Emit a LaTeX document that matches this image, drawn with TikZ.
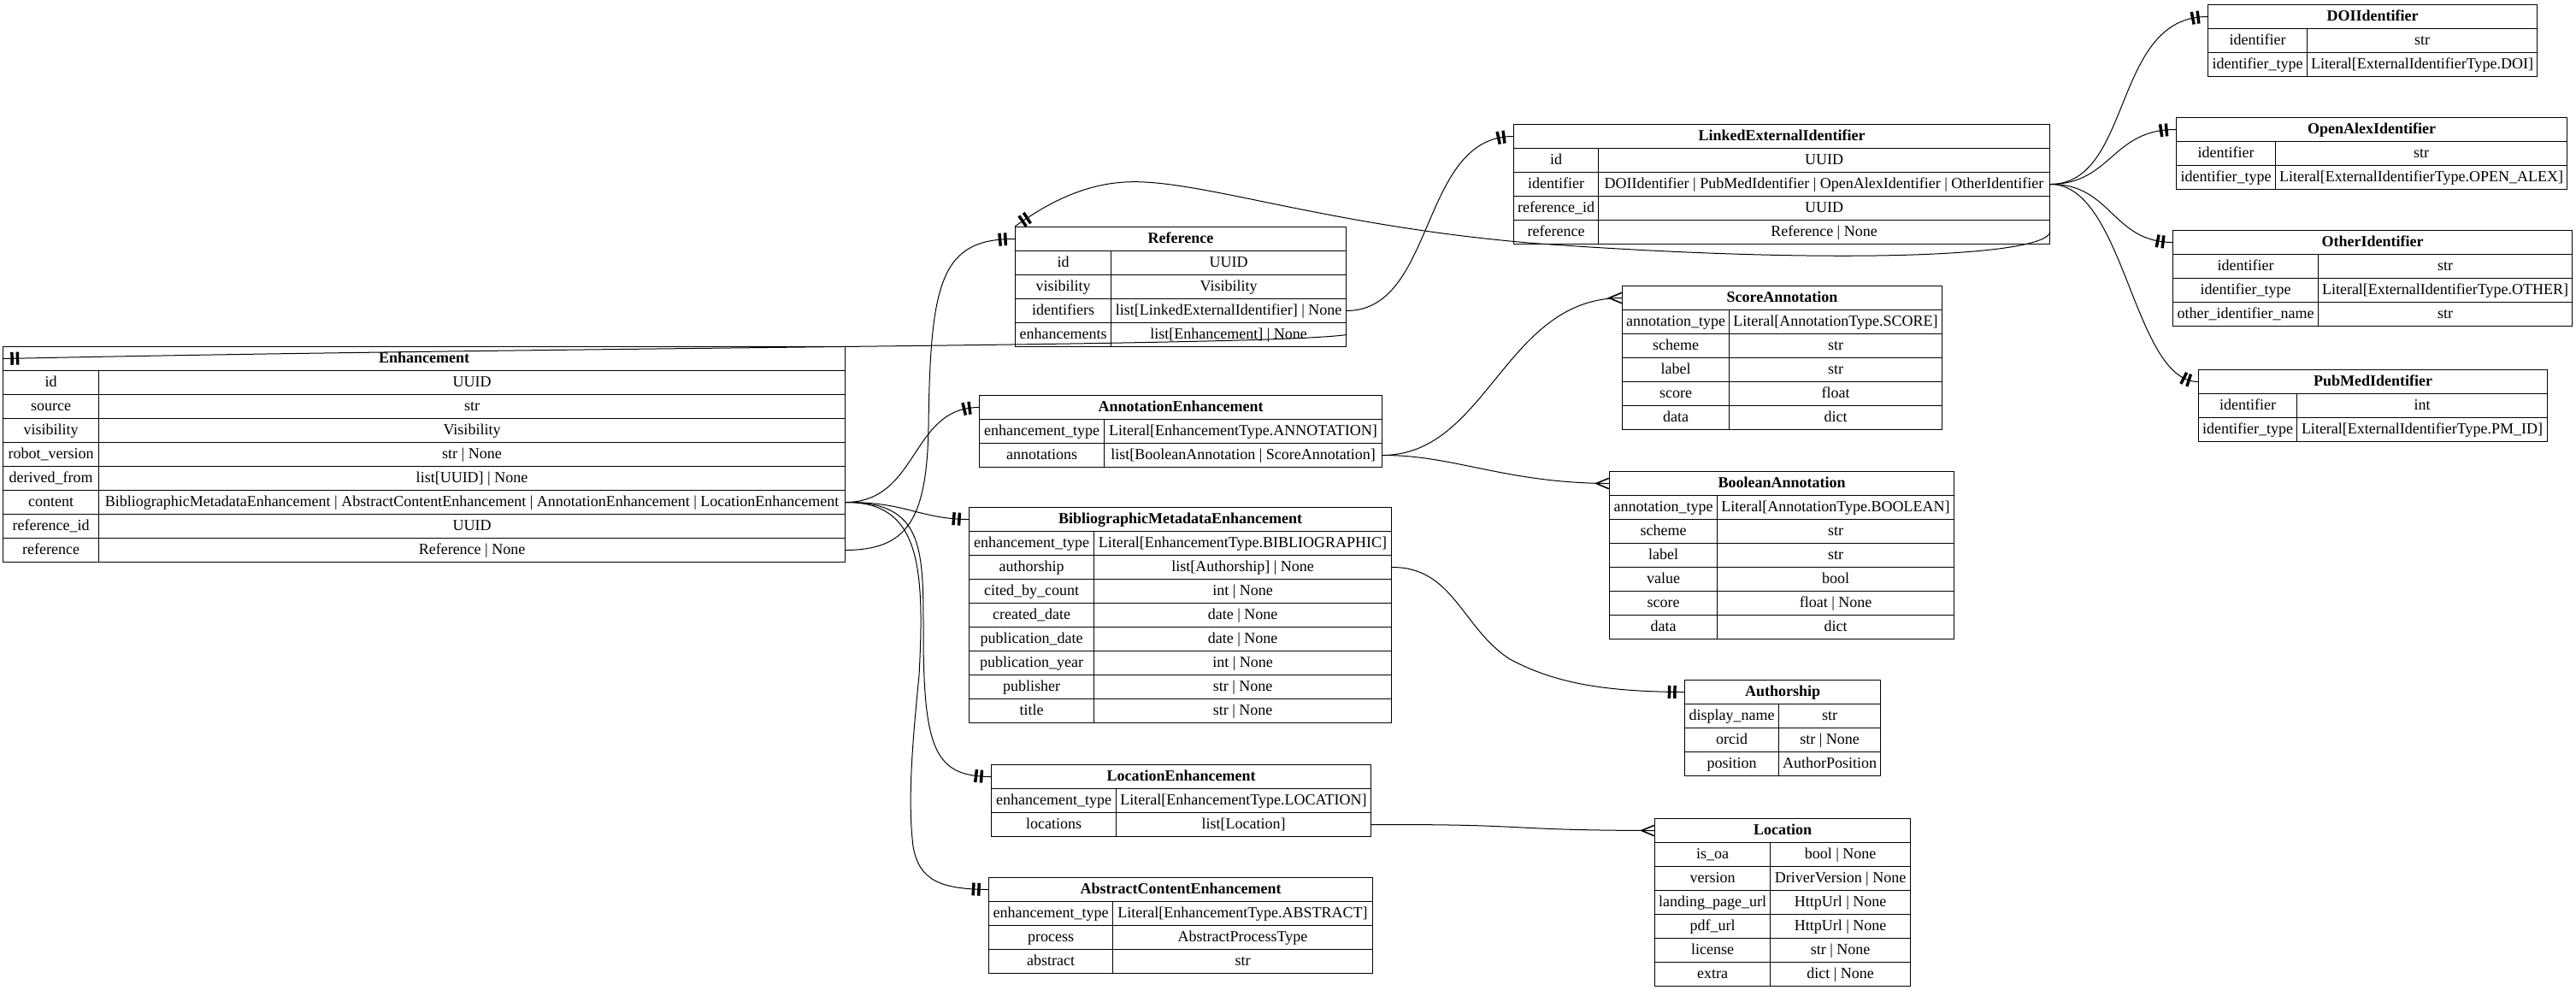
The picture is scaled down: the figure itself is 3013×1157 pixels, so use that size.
\documentclass[tikz,border=0pt]{standalone}
\usepackage{fontspec}
\setmainfont{Liberation Serif}
\usepackage{tikz}
\usetikzlibrary{decorations.markings}

\begin{document}
\begin{tikzpicture}[x=0.75pt,y=-0.75pt,
  hdr/.style={draw, line width=0.8pt, anchor=north west, inner sep=0pt, minimum height=21pt,
    text height=9.8pt, text depth=3pt, font=\fontsize{13.5pt}{15pt}\selectfont\bfseries},
  fld/.style={draw, line width=0.8pt, anchor=north west, inner sep=0pt, minimum height=21pt,
    text height=9.8pt, text depth=3pt, font=\fontsize{13.5pt}{15pt}\selectfont},
  cellw/.style={minimum width=#1*0.75pt},
  rel/.style={line width=0.75pt},
  onlyone/.style={postaction={decorate, decoration={markings,
    mark=at position -8.3pt with {\fill (-1.3pt,-5.6pt) rectangle (1.3pt,5.6pt);},
    mark=at position -13.1pt with {\fill (-1.3pt,-5.6pt) rectangle (1.3pt,5.6pt);}}}},
  crowfoot/.style={postaction={decorate, decoration={markings,
    mark=at position -0.2pt with {\draw[line width=1.2pt] (0,4.6pt) -- (-11pt,0) -- (0,-4.6pt);}}}}]
\useasboundingbox (0,0) rectangle (3013,1157);

% Enhancement
\node[hdr, cellw=985] (enh) at (3,405) {Enhancement};
\node[fld, cellw=112] (enh-id) at (3,433) {id};
\node[fld, cellw=873] (enh-id-t) at (115,433) {UUID};
\node[fld, cellw=112] (enh-source) at (3,461) {source};
\node[fld, cellw=873] (enh-source-t) at (115,461) {str};
\node[fld, cellw=112] (enh-visibility) at (3,489) {visibility};
\node[fld, cellw=873] (enh-visibility-t) at (115,489) {Visibility};
\node[fld, cellw=112] (enh-robotversion) at (3,517) {robot\_version};
\node[fld, cellw=873] (enh-robotversion-t) at (115,517) {str | None};
\node[fld, cellw=112] (enh-derivedfrom) at (3,545) {derived\_from};
\node[fld, cellw=873] (enh-derivedfrom-t) at (115,545) {list[UUID] | None};
\node[fld, cellw=112] (enh-content) at (3,573) {content};
\node[fld, cellw=873] (enh-content-t) at (115,573) {BibliographicMetadataEnhancement | AbstractContentEnhancement | AnnotationEnhancement | LocationEnhancement};
\node[fld, cellw=112] (enh-referenceid) at (3,601) {reference\_id};
\node[fld, cellw=873] (enh-referenceid-t) at (115,601) {UUID};
\node[fld, cellw=112] (enh-reference) at (3,629) {reference};
\node[fld, cellw=873] (enh-reference-t) at (115,629) {Reference | None};

% Reference
\node[hdr, cellw=387] (ref) at (1187,265) {Reference};
\node[fld, cellw=112] (ref-id) at (1187,293) {id};
\node[fld, cellw=275] (ref-id-t) at (1299,293) {UUID};
\node[fld, cellw=112] (ref-visibility) at (1187,321) {visibility};
\node[fld, cellw=275] (ref-visibility-t) at (1299,321) {Visibility};
\node[fld, cellw=112] (ref-identifiers) at (1187,349) {identifiers};
\node[fld, cellw=275] (ref-identifiers-t) at (1299,349) {list[LinkedExternalIdentifier] | None};
\node[fld, cellw=112] (ref-enhancements) at (1187,377) {enhancements};
\node[fld, cellw=275] (ref-enhancements-t) at (1299,377) {list[Enhancement] | None};

% AnnotationEnhancement
\node[hdr, cellw=471] (ann) at (1145,462) {AnnotationEnhancement};
\node[fld, cellw=146] (ann-type) at (1145,490) {enhancement\_type};
\node[fld, cellw=325] (ann-type-t) at (1291,490) {Literal[EnhancementType.ANNOTATION]};
\node[fld, cellw=146] (ann-annotations) at (1145,518) {annotations};
\node[fld, cellw=325] (ann-annotations-t) at (1291,518) {list[BooleanAnnotation | ScoreAnnotation]};

% BibliographicMetadataEnhancement
\node[hdr, cellw=494] (bib) at (1133,593) {BibliographicMetadataEnhancement};
\node[fld, cellw=146] (bib-type) at (1133,621) {enhancement\_type};
\node[fld, cellw=348] (bib-type-t) at (1279,621) {Literal[EnhancementType.BIBLIOGRAPHIC]};
\node[fld, cellw=146] (bib-authorship) at (1133,649) {authorship};
\node[fld, cellw=348] (bib-authorship-t) at (1279,649) {list[Authorship] | None};
\node[fld, cellw=146] (bib-citedbycount) at (1133,677) {cited\_by\_count};
\node[fld, cellw=348] (bib-citedbycount-t) at (1279,677) {int | None};
\node[fld, cellw=146] (bib-createddate) at (1133,705) {created\_date};
\node[fld, cellw=348] (bib-createddate-t) at (1279,705) {date | None};
\node[fld, cellw=146] (bib-publicationdate) at (1133,733) {publication\_date};
\node[fld, cellw=348] (bib-publicationdate-t) at (1279,733) {date | None};
\node[fld, cellw=146] (bib-publicationyear) at (1133,761) {publication\_year};
\node[fld, cellw=348] (bib-publicationyear-t) at (1279,761) {int | None};
\node[fld, cellw=146] (bib-publisher) at (1133,789) {publisher};
\node[fld, cellw=348] (bib-publisher-t) at (1279,789) {str | None};
\node[fld, cellw=146] (bib-title) at (1133,817) {title};
\node[fld, cellw=348] (bib-title-t) at (1279,817) {str | None};

% LocationEnhancement
\node[hdr, cellw=444] (locenh) at (1159,894) {LocationEnhancement};
\node[fld, cellw=146] (locenh-type) at (1159,922) {enhancement\_type};
\node[fld, cellw=298] (locenh-type-t) at (1305,922) {Literal[EnhancementType.LOCATION]};
\node[fld, cellw=146] (locenh-locations) at (1159,950) {locations};
\node[fld, cellw=298] (locenh-locations-t) at (1305,950) {list[Location]};

% AbstractContentEnhancement
\node[hdr, cellw=449] (abs) at (1156,1026) {AbstractContentEnhancement};
\node[fld, cellw=145] (abs-type) at (1156,1054) {enhancement\_type};
\node[fld, cellw=304] (abs-type-t) at (1301,1054) {Literal[EnhancementType.ABSTRACT]};
\node[fld, cellw=145] (abs-process) at (1156,1082) {process};
\node[fld, cellw=304] (abs-process-t) at (1301,1082) {AbstractProcessType};
\node[fld, cellw=145] (abs-abstract) at (1156,1110) {abstract};
\node[fld, cellw=304] (abs-abstract-t) at (1301,1110) {str};

% LinkedExternalIdentifier
\node[hdr, cellw=627] (lei) at (1770,145) {LinkedExternalIdentifier};
\node[fld, cellw=99] (lei-id) at (1770,173) {id};
\node[fld, cellw=528] (lei-id-t) at (1869,173) {UUID};
\node[fld, cellw=99] (lei-identifier) at (1770,201) {identifier};
\node[fld, cellw=528] (lei-identifier-t) at (1869,201) {DOIIdentifier | PubMedIdentifier | OpenAlexIdentifier | OtherIdentifier};
\node[fld, cellw=99] (lei-referenceid) at (1770,229) {reference\_id};
\node[fld, cellw=528] (lei-referenceid-t) at (1869,229) {UUID};
\node[fld, cellw=99] (lei-reference) at (1770,257) {reference};
\node[fld, cellw=528] (lei-reference-t) at (1869,257) {Reference | None};

% ScoreAnnotation
\node[hdr, cellw=374] (score) at (1897,334) {ScoreAnnotation};
\node[fld, cellw=125] (score-type) at (1897,362) {annotation\_type};
\node[fld, cellw=249] (score-type-t) at (2022,362) {Literal[AnnotationType.SCORE]};
\node[fld, cellw=125] (score-scheme) at (1897,390) {scheme};
\node[fld, cellw=249] (score-scheme-t) at (2022,390) {str};
\node[fld, cellw=125] (score-label) at (1897,418) {label};
\node[fld, cellw=249] (score-label-t) at (2022,418) {str};
\node[fld, cellw=125] (score-score) at (1897,446) {score};
\node[fld, cellw=249] (score-score-t) at (2022,446) {float};
\node[fld, cellw=125] (score-data) at (1897,474) {data};
\node[fld, cellw=249] (score-data-t) at (2022,474) {dict};

% BooleanAnnotation
\node[hdr, cellw=403] (bool) at (1882,551) {BooleanAnnotation};
\node[fld, cellw=126] (bool-type) at (1882,579) {annotation\_type};
\node[fld, cellw=277] (bool-type-t) at (2008,579) {Literal[AnnotationType.BOOLEAN]};
\node[fld, cellw=126] (bool-scheme) at (1882,607) {scheme};
\node[fld, cellw=277] (bool-scheme-t) at (2008,607) {str};
\node[fld, cellw=126] (bool-label) at (1882,635) {label};
\node[fld, cellw=277] (bool-label-t) at (2008,635) {str};
\node[fld, cellw=126] (bool-value) at (1882,663) {value};
\node[fld, cellw=277] (bool-value-t) at (2008,663) {bool};
\node[fld, cellw=126] (bool-score) at (1882,691) {score};
\node[fld, cellw=277] (bool-score-t) at (2008,691) {float | None};
\node[fld, cellw=126] (bool-data) at (1882,719) {data};
\node[fld, cellw=277] (bool-data-t) at (2008,719) {dict};

% Authorship
\node[hdr, cellw=229] (auth) at (1970,795) {Authorship};
\node[fld, cellw=110] (auth-displayname) at (1970,823) {display\_name};
\node[fld, cellw=119] (auth-displayname-t) at (2080,823) {str};
\node[fld, cellw=110] (auth-orcid) at (1970,851) {orcid};
\node[fld, cellw=119] (auth-orcid-t) at (2080,851) {str | None};
\node[fld, cellw=110] (auth-position) at (1970,879) {position};
\node[fld, cellw=119] (auth-position-t) at (2080,879) {AuthorPosition};

% Location
\node[hdr, cellw=299] (loc) at (1935,957) {Location};
\node[fld, cellw=135] (loc-isoa) at (1935,985) {is\_oa};
\node[fld, cellw=164] (loc-isoa-t) at (2070,985) {bool | None};
\node[fld, cellw=135] (loc-version) at (1935,1013) {version};
\node[fld, cellw=164] (loc-version-t) at (2070,1013) {DriverVersion | None};
\node[fld, cellw=135] (loc-landingpageurl) at (1935,1041) {landing\_page\_url};
\node[fld, cellw=164] (loc-landingpageurl-t) at (2070,1041) {HttpUrl | None};
\node[fld, cellw=135] (loc-pdfurl) at (1935,1069) {pdf\_url};
\node[fld, cellw=164] (loc-pdfurl-t) at (2070,1069) {HttpUrl | None};
\node[fld, cellw=135] (loc-license) at (1935,1097) {license};
\node[fld, cellw=164] (loc-license-t) at (2070,1097) {str | None};
\node[fld, cellw=135] (loc-extra) at (1935,1125) {extra};
\node[fld, cellw=164] (loc-extra-t) at (2070,1125) {dict | None};

% DOIIdentifier
\node[hdr, cellw=385] (doi) at (2582,5) {DOIIdentifier};
\node[fld, cellw=116] (doi-identifier) at (2582,33) {identifier};
\node[fld, cellw=269] (doi-identifier-t) at (2698,33) {str};
\node[fld, cellw=116] (doi-type) at (2582,61) {identifier\_type};
\node[fld, cellw=269] (doi-type-t) at (2698,61) {Literal[ExternalIdentifierType.DOI]};

% OpenAlexIdentifier
\node[hdr, cellw=457] (oa) at (2545,137) {OpenAlexIdentifier};
\node[fld, cellw=116] (oa-identifier) at (2545,165) {identifier};
\node[fld, cellw=341] (oa-identifier-t) at (2661,165) {str};
\node[fld, cellw=116] (oa-type) at (2545,193) {identifier\_type};
\node[fld, cellw=341] (oa-type-t) at (2661,193) {Literal[ExternalIdentifierType.OPEN\_ALEX]};

% OtherIdentifier
\node[hdr, cellw=467] (other) at (2541,269) {OtherIdentifier};
\node[fld, cellw=170] (other-identifier) at (2541,297) {identifier};
\node[fld, cellw=297] (other-identifier-t) at (2711,297) {str};
\node[fld, cellw=170] (other-type) at (2541,325) {identifier\_type};
\node[fld, cellw=297] (other-type-t) at (2711,325) {Literal[ExternalIdentifierType.OTHER]};
\node[fld, cellw=170] (other-name) at (2541,353) {other\_identifier\_name};
\node[fld, cellw=297] (other-name-t) at (2711,353) {str};

% PubMedIdentifier
\node[hdr, cellw=408] (pm) at (2571,432) {PubMedIdentifier};
\node[fld, cellw=115] (pm-identifier) at (2571,460) {identifier};
\node[fld, cellw=293] (pm-identifier-t) at (2686,460) {int};
\node[fld, cellw=115] (pm-type) at (2571,488) {identifier\_type};
\node[fld, cellw=293] (pm-type-t) at (2686,488) {Literal[ExternalIdentifierType.PM\_ID]};

% relations out of Enhancement
\draw[rel, onlyone] (enh-content-t.east) .. controls (1060,587) and (1075,607) .. (bib.west);
\draw[rel, onlyone] (enh-content-t.east) .. controls (1075,587) and (1065,476) .. (ann.west);
\draw[rel, onlyone] (enh-content-t.east) .. controls (1080,587) and (1080,640) .. (1080,740)
  .. controls (1080,880) and (1095,908) .. (locenh.west);
\draw[rel, onlyone] (enh-content-t.east) .. controls (1075,587) and (1082,660) .. (1075,790)
  .. controls (1066,880) and (1062,940) .. (1068,990) .. controls (1075,1030) and (1100,1040) .. (abs.west);
\draw[rel, onlyone] (enh-reference-t.east) .. controls (1060,643) and (1084,610) .. (1086,500)
  .. controls (1088,330) and (1100,279) .. (ref.west);

% relations out of Reference
\draw[rel, onlyone] (ref-enhancements-t.east) .. controls (1480,405) and (700,405) .. (enh.west);
\draw[rel, onlyone] (ref-identifiers-t.east) .. controls (1680,363) and (1660,159) .. (lei.west);

% relations out of LinkedExternalIdentifier
\draw[rel, onlyone] (lei-reference-t.east) .. controls (2390,300) and (2150,310) .. (1800,285)
  .. controls (1550,265) and (1400,208) .. (1316,213) .. controls (1260,216) and (1215,245) .. (ref.north west);
\draw[rel, onlyone] (lei-identifier-t.east) .. controls (2495,215) and (2470,19) .. (doi.west);
\draw[rel, onlyone] (lei-identifier-t.east) .. controls (2470,215) and (2470,151) .. (oa.west);
\draw[rel, onlyone] (lei-identifier-t.east) .. controls (2470,215) and (2470,283) .. (other.west);
\draw[rel, onlyone] (lei-identifier-t.east) .. controls (2485,215) and (2495,446) .. (pm.west);

% annotations, authorship, locations
\draw[rel, crowfoot] (ann-annotations-t.east) .. controls (1740,532) and (1760,348) .. (score.west);
\draw[rel, crowfoot] (ann-annotations-t.east) .. controls (1700,532) and (1760,565) .. (bool.west);
\draw[rel, onlyone] (bib-authorship-t.east) .. controls (1700,663) and (1710,735) .. (1766,771)
  .. controls (1820,800) and (1880,809) .. (auth.west);
\draw[rel, crowfoot] (locenh-locations-t.east) .. controls (1800,964) and (1750,971) .. (loc.west);
\end{tikzpicture}
\end{document}
